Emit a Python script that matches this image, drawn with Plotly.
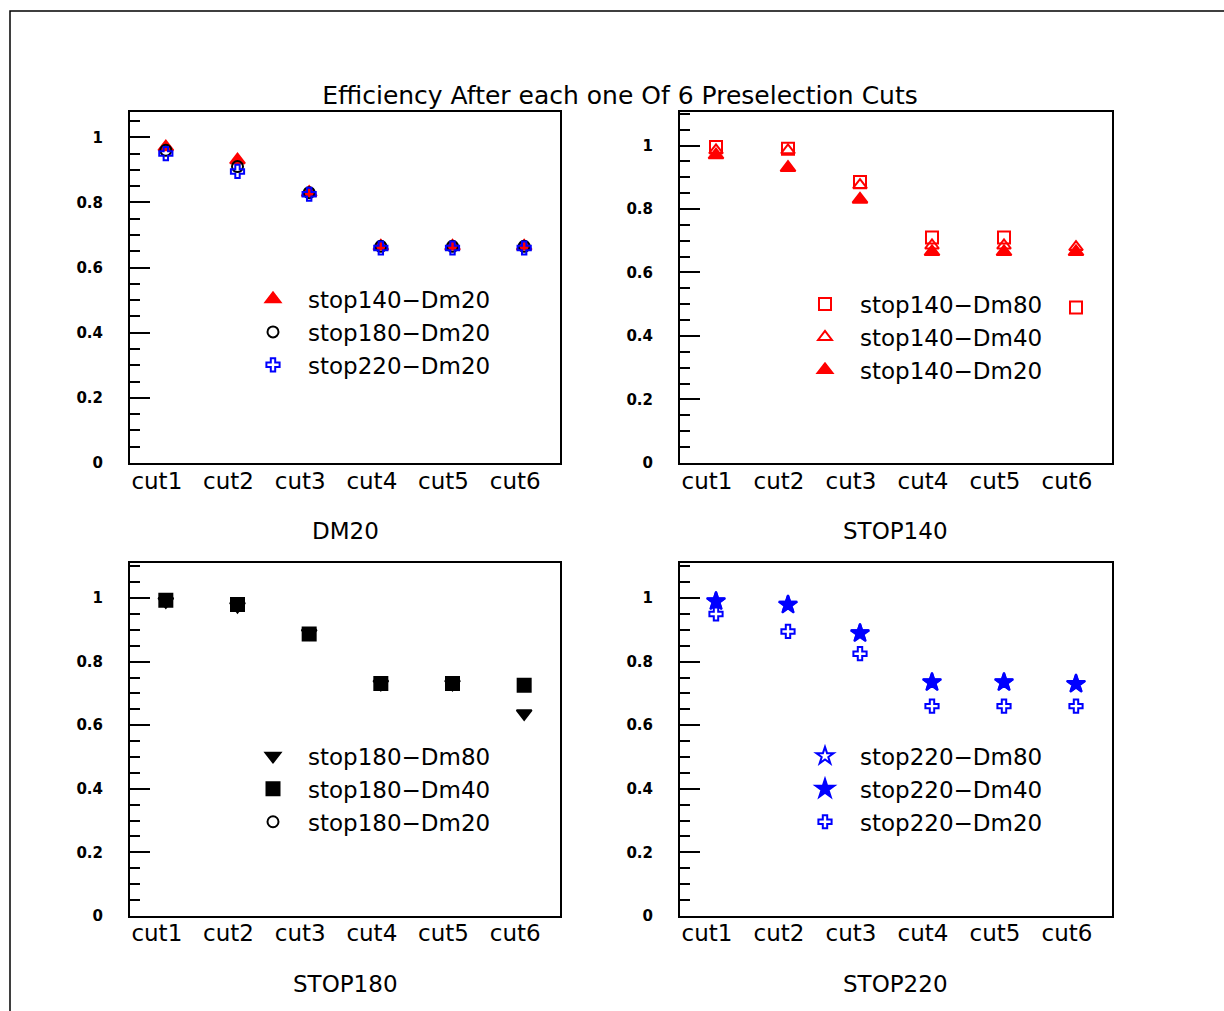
import plotly.graph_objects as go

# ---------------- data ----------------
cuts = ["cut1", "cut2", "cut3", "cut4", "cut5", "cut6"]
cut_pos = [1, 2, 3, 4, 5, 6]

stop140_dm20 = [0.97, 0.93, 0.83, 0.665, 0.665, 0.665]
stop180_dm20 = [0.96, 0.91, 0.83, 0.665, 0.665, 0.665]
stop220_dm20 = [0.95, 0.895, 0.825, 0.66, 0.66, 0.66]

stop140_dm80 = [0.995, 0.99, 0.885, 0.71, 0.71, 0.49]
stop140_dm40 = [0.985, 0.985, 0.875, 0.685, 0.685, 0.68]

stop180_dm80 = [0.99, 0.975, 0.89, 0.73, 0.73, 0.637]
stop180_dm40 = [0.993, 0.98, 0.887, 0.731, 0.731, 0.726]
stop180_dm20_shown = [None, None, None, None, None, None]  # no visible points in STOP180 panel

stop220_dm80 = [0.99, 0.98, 0.89, 0.735, 0.735, 0.73]
stop220_dm40 = [0.99, 0.979, 0.889, 0.735, 0.735, 0.73]

y_ticks = [0, 0.2, 0.4, 0.6, 0.8, 1.0]
y_ticktext = ["0", "0.2", "0.4", "0.6", "0.8", "1"]

panel_titles = ["DM20", "STOP140", "STOP180", "STOP220"]
main_title = "Efficiency After each one Of 6 Preselection Cuts"

# ---------------- layout geometry ----------------
W, H = 1224, 1011
FONT = "DejaVu Sans"
RED, BLUE, BLACK = "#ff0000", "#0000ff", "#000000"
S = 0.989   # vertical correction factor observed in rendering

def fx(rx):
    return rx / W

def fy(ry):
    return 1 - (95 + (ry - 95) / S) / H

panels = [
    dict(x=[fx(130), fx(560)], y=[fy(463), fy(113)], yr=[0, 1.077]),
    dict(x=[fx(680), fx(1112)], y=[fy(463), fy(113)], yr=[0, 1.105]),
    dict(x=[fx(130), fx(560)], y=[fy(915), fy(563)], yr=[0, 1.11]),
    dict(x=[fx(680), fx(1112)], y=[fy(915), fy(563)], yr=[0, 1.11]),
]

fig = go.Figure()

def add(panel, name, yvals, symbol, color, size, legend):
    idx = panel + 1
    fig.add_trace(go.Scatter(
        x=cut_pos, y=yvals, mode="markers", name=name,
        xaxis="x" if idx == 1 else f"x{idx}",
        yaxis="y" if idx == 1 else f"y{idx}",
        legend=legend, legendgroup=name + str(idx), showlegend=True,
        marker=dict(symbol=symbol, color=color, size=size,
                    line=dict(color=color, width=2)),
        cliponaxis=False,
    ))

# Panel 1: DM20
add(0, "stop140\u2212Dm20", stop140_dm20, "triangle-up", RED, 13, "legend")
add(0, "stop180\u2212Dm20", stop180_dm20, "circle-open", BLACK, 11, "legend")
add(0, "stop220\u2212Dm20", stop220_dm20, "cross-open", BLUE, 11, "legend")
# Panel 2: STOP140
add(1, "stop140\u2212Dm80", stop140_dm80, "square-open", RED, 12, "legend2")
add(1, "stop140\u2212Dm40", stop140_dm40, "triangle-up-open", RED, 12, "legend2")
add(1, "stop140\u2212Dm20", stop140_dm20, "triangle-up", RED, 13, "legend2")
# Panel 3: STOP180
add(2, "stop180\u2212Dm80", stop180_dm80, "triangle-down", BLACK, 13, "legend3")
add(2, "stop180\u2212Dm40", stop180_dm40, "square", BLACK, 13, "legend3")
add(2, "stop180\u2212Dm20", stop180_dm20_shown, "circle-open", BLACK, 11, "legend3")
# Panel 4: STOP220
add(3, "stop220\u2212Dm80", stop220_dm80, "star-open", BLUE, 13, "legend4")
add(3, "stop220\u2212Dm40", stop220_dm40, "star", BLUE, 14, "legend4")
add(3, "stop220\u2212Dm20", stop220_dm20, "cross-open", BLUE, 11, "legend4")

layout = dict(
    width=W, height=H,
    margin=dict(l=0, r=0, t=0, b=0),
    paper_bgcolor="white", plot_bgcolor="white",
    font=dict(family=FONT, color=BLACK),
    title=dict(text=main_title, x=fx(620), xanchor="center",
               y=fy(95), yanchor="middle", yref="container",
               font=dict(family=FONT, size=25, color=BLACK)),
    showlegend=True,
)

for i, p in enumerate(panels):
    idx = i + 1
    xa = "xaxis" if idx == 1 else f"xaxis{idx}"
    ya = "yaxis" if idx == 1 else f"yaxis{idx}"
    anchor_x = "y" if idx == 1 else f"y{idx}"
    anchor_y = "x" if idx == 1 else f"x{idx}"
    layout[xa] = dict(
        domain=p["x"], anchor=anchor_x, range=[0.5, 6.5],
        tickmode="array", tickvals=cut_pos, ticktext=cuts,
        ticks="", showgrid=False, zeroline=False,
        showline=True, mirror=True, linecolor=BLACK, linewidth=2,
        tickfont=dict(family=FONT, size=23, color=BLACK),
        ticklabelshift=-9, ticklabelstandoff=-4,
        fixedrange=True,
    )
    layout[ya] = dict(
        domain=p["y"], anchor=anchor_y, range=p["yr"],
        tickmode="array", tickvals=y_ticks, ticktext=y_ticktext,
        ticks="inside", ticklen=20, tickwidth=2, tickcolor=BLACK,
        minor=dict(dtick=0.05, tick0=0, ticks="inside", ticklen=10,
                   tickwidth=2, tickcolor=BLACK, showgrid=False),
        showgrid=False, zeroline=False,
        showline=True, mirror=True, linecolor=BLACK, linewidth=2,
        tickfont=dict(family=FONT, size=15, color=BLACK, weight="bold"),
        ticklabelstandoff=22,
        fixedrange=True,
    )

leg_common = dict(
    bgcolor="rgba(0,0,0,0)", borderwidth=0,
    font=dict(family=FONT, size=23, color=BLACK),
    itemwidth=60, tracegroupgap=0, xanchor="left", yanchor="top",
    itemclick=False, itemdoubleclick=False,
)
leg_pos = [(238, 278), (790, 283), (238, 734), (790, 734)]
for i, (lx, ly) in enumerate(leg_pos):
    key = "legend" if i == 0 else f"legend{i + 1}"
    layout[key] = dict(leg_common, x=fx(lx), y=fy(ly))

annotations = []
title_pos = [(345, 531), (896, 531), (345, 983), (896, 983)]
for t, (tx, ty) in zip(panel_titles, title_pos):
    annotations.append(dict(text=t, x=fx(tx), y=fy(ty), xref="paper", yref="paper",
                            xanchor="center", yanchor="middle", showarrow=False,
                            font=dict(family=FONT, size=23, color=BLACK)))
layout["annotations"] = annotations

layout["shapes"] = [dict(type="rect", xref="paper", yref="paper",
                         x0=fx(10), x1=1.05, y0=-0.05, y1=fy(12),
                         line=dict(color=BLACK, width=1.5), layer="below")]

fig.update_layout(**layout)
fig.write_html(
    "out.html",
    config={"displayModeBar": False},
    post_script=("document.documentElement.style.margin='0';"
                 "document.body.style.margin='0';"
                 "document.documentElement.style.overflow='hidden';"
                 "document.body.style.overflow='hidden';"),
)
